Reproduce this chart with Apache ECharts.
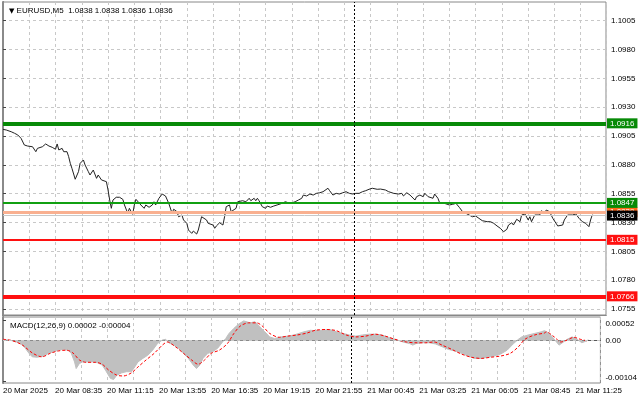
<!DOCTYPE html>
<html><head><meta charset="utf-8">
<script src="https://cdn.jsdelivr.net/npm/echarts@6/dist/echarts.min.js"></script>
<style>html,body{margin:0;padding:0;background:#fff}#c{width:640px;height:401px}</style>
</head><body><div id="c"></div>
<script>
const symbolHeader = 'EURUSD,M5  1.0838 1.0838 1.0836 1.0836';
const macdHeader = 'MACD(12,26,9) 0.00002 -0.00004';
const priceTicks = [1.0755,1.0780,1.0805,1.0830,1.0855,1.0880,1.0905,1.0930,1.0955,1.0980,1.1005];
const macdTicks = [0.00052, 0, -0.00104];
const timeLabels = ['20 Mar 2025','20 Mar 08:35','20 Mar 11:15','20 Mar 13:55','20 Mar 16:35','20 Mar 19:15','20 Mar 21:55','21 Mar 00:45','21 Mar 03:25','21 Mar 06:05','21 Mar 08:45','21 Mar 11:25'];
const timeBars = [0,32,64,96,128,160,192,224,256,288,320,352];
const separatorBar = 214;
// levels: salmon, green thick, green, red, red thick, bid
const levelValues = [1.0839, 1.0916, 1.0847, 1.0815, 1.0766, 1.0836];

const pricePoints = [[0,1.09108],[2,1.09102],[5,1.09087],[7,1.09074],[9,1.09059],[11,1.09030],[13,1.08972],[15,1.08963],[18,1.08957],[20,1.08914],[21,1.08943],[24,1.08957],[26,1.08981],[28,1.08963],[30,1.08952],[32,1.08935],[33,1.08981],[34,1.08929],[36,1.08943],[37,1.08914],[39,1.08914],[40,1.08871],[41,1.08813],[42,1.08770],[44,1.08675],[46,1.08741],[47,1.08813],[49,1.08842],[50,1.08799],[52,1.08741],[53,1.08712],[55,1.08755],[56,1.08761],[57,1.08683],[58,1.08712],[60,1.08669],[61,1.08675],[63,1.08654],[64,1.08582],[65,1.08495],[66,1.08423],[67,1.08495],[69,1.08519],[71,1.08519],[73,1.08501],[74,1.08452],[76,1.08380],[77,1.08423],[79,1.08371],[80,1.08452],[81,1.08501],[82,1.08495],[84,1.08452],[86,1.08423],[87,1.08452],[89,1.08432],[91,1.08452],[92,1.08480],[93,1.08452],[95,1.08510],[97,1.08547],[99,1.08530],[100,1.08524],[101,1.08466],[103,1.08380],[104,1.08415],[106,1.08394],[107,1.08350],[109,1.08365],[110,1.08322],[112,1.08293],[113,1.08235],[115,1.08206],[116,1.08226],[118,1.08200],[119,1.08235],[120,1.08293],[121,1.08350],[122,1.08365],[124,1.08322],[125,1.08293],[128,1.08278],[129,1.08250],[130,1.08270],[132,1.08298],[134,1.08278],[135,1.08350],[136,1.08437],[138,1.08452],[139,1.08394],[140,1.08380],[142,1.08423],[143,1.08480],[144,1.08466],[146,1.08489],[147,1.08501],[148,1.08480],[150,1.08510],[151,1.08489],[153,1.08510],[154,1.08489],[155,1.08510],[156,1.08489],[158,1.08437],[160,1.08423],[161,1.08443],[163,1.08432],[165,1.08443],[167,1.08452],[170,1.08466],[172,1.08480],[173,1.08489],[175,1.08466],[176,1.08472],[178,1.08480],[180,1.08495],[182,1.08510],[183,1.08538],[185,1.08530],[187,1.08547],[189,1.08538],[191,1.08553],[193,1.08558],[195,1.08567],[196,1.08582],[198,1.08597],[199,1.08576],[201,1.08538],[203,1.08553],[205,1.08547],[207,1.08558],[209,1.08567],[211,1.08553],[213,1.08547],[215,1.08553],[217,1.08553],[219,1.08567],[221,1.08576],[223,1.08588],[225,1.08597],[228,1.08588],[230,1.08590],[233,1.08582],[235,1.08567],[236,1.08576],[238,1.08553],[239,1.08558],[241,1.08547],[243,1.08553],[244,1.08530],[246,1.08558],[248,1.08538],[249,1.08524],[251,1.08495],[252,1.08524],[254,1.08538],[256,1.08524],[257,1.08553],[259,1.08524],[260,1.08530],[262,1.08510],[263,1.08547],[265,1.08510],[266,1.08472],[267,1.08480],[269,1.08466],[270,1.08472],[272,1.08452],[274,1.08458],[276,1.08466],[278,1.08432],[280,1.08394],[282,1.08380],[284,1.08365],[286,1.08350],[288,1.08356],[290,1.08336],[292,1.08316],[293,1.08328],[295,1.08307],[297,1.08307],[299,1.08293],[301,1.08270],[303,1.08250],[305,1.08220],[307,1.08241],[308,1.08278],[310,1.08298],[311,1.08278],[313,1.08328],[315,1.08307],[316,1.08365],[318,1.08374],[320,1.08322],[321,1.08350],[322,1.08307],[324,1.08365],[325,1.08380],[327,1.08365],[328,1.08402],[330,1.08385],[331,1.08408],[333,1.08394],[334,1.08402],[335,1.08336],[336,1.08322],[338,1.08270],[339,1.08258],[341,1.08278],[342,1.08322],[344,1.08365],[345,1.08374],[347,1.08365],[349,1.08374],[350,1.08365],[351,1.08336],[353,1.08307],[355,1.08293],[357,1.08264],[358,1.08322],[359,1.08365],[360,1.08360]];

const macdHist = [[0,0.00002],[4,0.00001],[10,-0.00006],[13,-0.00016],[16,-0.00033],[18,-0.00042],[21,-0.00043],[25,-0.00040],[28,-0.00033],[31,-0.00029],[34,-0.00025],[37,-0.00023],[40,-0.00025],[42,-0.00033],[44,-0.00055],[45,-0.00072],[47,-0.00059],[49,-0.00055],[52,-0.00055],[55,-0.00055],[58,-0.00057],[61,-0.00063],[63,-0.00076],[66,-0.00097],[68,-0.00100],[70,-0.00089],[73,-0.00083],[76,-0.00080],[79,-0.00080],[81,-0.00068],[83,-0.00055],[86,-0.00046],[89,-0.00038],[92,-0.00025],[95,-0.00008],[98,0.00001],[100,0.00003],[102,-0.00006],[105,-0.00012],[108,-0.00020],[111,-0.00033],[114,-0.00046],[117,-0.00063],[119,-0.00072],[121,-0.00063],[123,-0.00046],[126,-0.00033],[129,-0.00029],[132,-0.00020],[135,-0.00004],[137,0.00005],[139,0.00018],[142,0.00031],[145,0.00042],[148,0.00050],[152,0.00045],[155,0.00048],[158,0.00035],[161,0.00022],[164,0.00009],[167,0.00005],[171,0.00009],[175,0.00011],[179,0.00014],[182,0.00018],[185,0.00022],[189,0.00026],[192,0.00025],[197,0.00026],[201,0.00028],[205,0.00022],[209,0.00018],[213,0.00014],[217,0.00011],[221,0.00014],[225,0.00016],[229,0.00016],[233,0.00014],[237,0.00008],[241,0.00003],[246,-0.00004],[250,-0.00008],[252,-0.00012],[254,-0.00008],[258,-0.00006],[262,-0.00006],[266,-0.00009],[270,-0.00016],[274,-0.00023],[278,-0.00027],[282,-0.00033],[286,-0.00040],[290,-0.00046],[294,-0.00046],[298,-0.00043],[302,-0.00040],[306,-0.00035],[310,-0.00025],[314,-0.00008],[317,0.00003],[319,0.00009],[323,0.00014],[327,0.00018],[331,0.00022],[333,0.00025],[336,0.00018],[339,0.00003],[342,-0.00012],[344,-0.00006],[347,0.00003],[350,0.00009],[353,0.00003],[356,-0.00006],[359,-0.00001],[360,0.00002]];

const macdSignal = [[0,0.00003],[6,-0.00001],[12,-0.00012],[18,-0.00032],[24,-0.00042],[29,-0.00033],[34,-0.00027],[39,-0.00025],[43,-0.00032],[47,-0.00050],[51,-0.00056],[57,-0.00056],[61,-0.00061],[65,-0.00076],[70,-0.00089],[74,-0.00091],[79,-0.00083],[83,-0.00068],[88,-0.00050],[93,-0.00033],[98,-0.00012],[101,-0.00004],[106,-0.00016],[111,-0.00033],[116,-0.00050],[120,-0.00061],[124,-0.00050],[128,-0.00033],[133,-0.00025],[138,-0.00008],[142,0.00018],[146,0.00037],[151,0.00045],[156,0.00045],[160,0.00035],[164,0.00018],[170,0.00008],[175,0.00011],[181,0.00014],[187,0.00019],[192,0.00026],[199,0.00028],[205,0.00025],[211,0.00014],[217,0.00009],[223,0.00011],[229,0.00016],[235,0.00011],[241,0.00003],[248,-0.00004],[254,-0.00006],[260,-0.00006],[265,-0.00004],[270,-0.00012],[276,-0.00023],[282,-0.00035],[288,-0.00043],[294,-0.00046],[300,-0.00043],[306,-0.00040],[312,-0.00033],[317,-0.00016],[321,0.00003],[327,0.00014],[333,0.00019],[334,0.00022],[339,0.00009],[343,-0.00004],[347,0.00001],[351,0.00008],[355,0.00003],[359,-0.00001],[360,-0.00004]];

const FONT = 'Liberation Sans';
const X_MAX = 367.4;
const GRIDC = '#c8c8c8';

const levelStyles = [
  {line:'#f9b090', w:3, box:'#ff6a1a', txt:'#fff'},
  {line:'#078a07', w:4, box:'#078a07', txt:'#fff'},
  {line:'#11a011', w:2, box:'#078a07', txt:'#fff'},
  {line:'#ff1010', w:2, box:'#ff1010', txt:'#fff'},
  {line:'#ff1010', w:4, box:'#ff1010', txt:'#fff'},
  {line:'#c8c8c8', w:1, box:'#000000', txt:'#fff'}
];

const levelMarks = levelValues.map((v, i) => ({
  yAxis: v,
  lineStyle: {color: levelStyles[i].line, width: levelStyles[i].w, type: 'solid'},
  label: {show: true, position: 'end', distance: 1, formatter: v.toFixed(4),
    color: levelStyles[i].txt, backgroundColor: levelStyles[i].box,
    padding: [1, 3, 0, 3], fontSize: 8, fontFamily: FONT, lineHeight: 9}
}));

const sepMark = {xAxis: separatorBar, lineStyle: {color: '#000', width: 1, type: [2, 2]}, label: {show: false}};

const chart = echarts.init(document.getElementById('c'), null, {renderer: 'canvas'});
chart.setOption({
  animation: false,
  backgroundColor: '#fff',
  textStyle: {fontFamily: FONT},
  title: [
    {text: '{a|▼} ' + symbolHeader, left: 4, top: 2,
      textStyle: {fontSize: 8, fontWeight: 'normal', color: '#000', fontFamily: FONT,
        rich: {a: {fontSize: 7, fontFamily: 'DejaVu Sans', color: '#000'}}}},
    {text: macdHeader, left: 5, top: 317,
      textStyle: {fontSize: 8, fontWeight: 'normal', color: '#000', fontFamily: FONT}}
  ],
  grid: [
    {left: 3, right: 34, top: 2, height: 313, show: true, borderColor: '#888', borderWidth: 1},
    {left: 3, right: 34, top: 317, height: 66, show: true, borderColor: '#888', borderWidth: 1}
  ],
  xAxis: [
    {gridIndex: 0, type: 'value', min: 0, max: X_MAX, interval: 16,
      axisLine: {show: true, lineStyle: {color: '#555', width: 1}}, axisTick: {show: false}, axisLabel: {show: false},
      splitLine: {show: true, lineStyle: {color: GRIDC, type: [3, 3], width: 1}}},
    {gridIndex: 1, type: 'value', min: 0, max: X_MAX, interval: 16,
      axisLine: {show: true, lineStyle: {color: '#555', width: 1}}, axisTick: {show: false},
      axisLabel: {customValues: timeBars, formatter: v => timeLabels[timeBars.indexOf(Math.round(v))] || '',
        align: 'left', fontSize: 8, color: '#000', margin: 4, fontFamily: FONT},
      splitLine: {show: true, lineStyle: {color: GRIDC, type: [3, 3], width: 1}}},
    {gridIndex: 0, type: 'value', min: 0, max: X_MAX, position: 'bottom', show: true,
      axisLine: {show: true, onZero: false, lineStyle: {color: '#888', width: 1}}, axisTick: {show: false}, axisLabel: {show: false}, splitLine: {show: false}}
  ],
  yAxis: [
    {gridIndex: 0, type: 'value', position: 'right', min: 1.07498, max: 1.10212, scale: true,
      axisLine: {show: true, lineStyle: {color: '#444', width: 1}},
      axisTick: {show: true, customValues: priceTicks, length: 3, lineStyle: {color: '#444'}},
      axisLabel: {customValues: priceTicks, formatter: v => v.toFixed(4), fontSize: 8, color: '#000', margin: 5, fontFamily: FONT},
      splitLine: {show: true, lineStyle: {color: GRIDC, type: [3, 3], width: 1}}},
    {gridIndex: 1, type: 'value', position: 'right', min: -0.00109, max: 0.0006, scale: true,
      axisLine: {show: true, lineStyle: {color: '#444', width: 1}},
      axisTick: {show: true, customValues: macdTicks, length: 3, lineStyle: {color: '#444'}},
      axisLabel: {customValues: macdTicks, fontSize: 8, color: '#000', margin: 5, fontFamily: FONT,
        formatter: v => v > 0 ? '{t|' + v.toFixed(5) + '}' : (v < 0 ? '{b|' + v.toFixed(5) + '}' : '{m|0.00}'),
        rich: {
          t: {fontSize: 8, fontFamily: FONT, color: '#000', padding: [7, 0, 0, 0]},
          b: {fontSize: 8, fontFamily: FONT, color: '#000', padding: [0, 0, 7, 0]},
          m: {fontSize: 8, fontFamily: FONT, color: '#000'}
        }},
      splitLine: {show: false}},
    {gridIndex: 0, type: 'value', position: 'left', min: 1.07498, max: 1.10212, scale: true,
      axisLine: {show: true, onZero: false, lineStyle: {color: '#8a8a8a', width: 2}}, axisTick: {show: false}, axisLabel: {show: false}, splitLine: {show: false}},
    {gridIndex: 1, type: 'value', position: 'left', min: -0.00109, max: 0.0006, scale: true,
      axisLine: {show: true, onZero: false, lineStyle: {color: '#8a8a8a', width: 2}}, axisTick: {show: false}, axisLabel: {show: false}, splitLine: {show: false}}
  ],
  series: [
    {type: 'line', name: 'price', xAxisIndex: 0, yAxisIndex: 0, data: pricePoints,
      showSymbol: false, symbol: 'none', lineStyle: {color: '#222', width: 1}, z: 3,
      markLine: {silent: true, symbol: ['none', 'none'], animation: false, z: 4, precision: 6,
        data: levelMarks.concat([sepMark])}},
    {type: 'line', name: 'macd', xAxisIndex: 1, yAxisIndex: 1, data: macdHist,
      showSymbol: false, symbol: 'none', lineStyle: {color: '#c0c0c0', width: 1},
      areaStyle: {color: '#c0c0c0', opacity: 1}, z: 2,
      markLine: {silent: true, symbol: ['none', 'none'], animation: false, precision: 6,
        data: [{yAxis: 0, lineStyle: {color: GRIDC, type: [3, 3], width: 1}, label: {show: false}}, sepMark]}},
    {type: 'line', name: 'signal', xAxisIndex: 1, yAxisIndex: 1, data: macdSignal,
      showSymbol: false, symbol: 'none', smooth: 0.3, lineStyle: {color: '#ff0000', width: 1, type: [3, 2]}, z: 3}
  ]
});
</script>
</body></html>
